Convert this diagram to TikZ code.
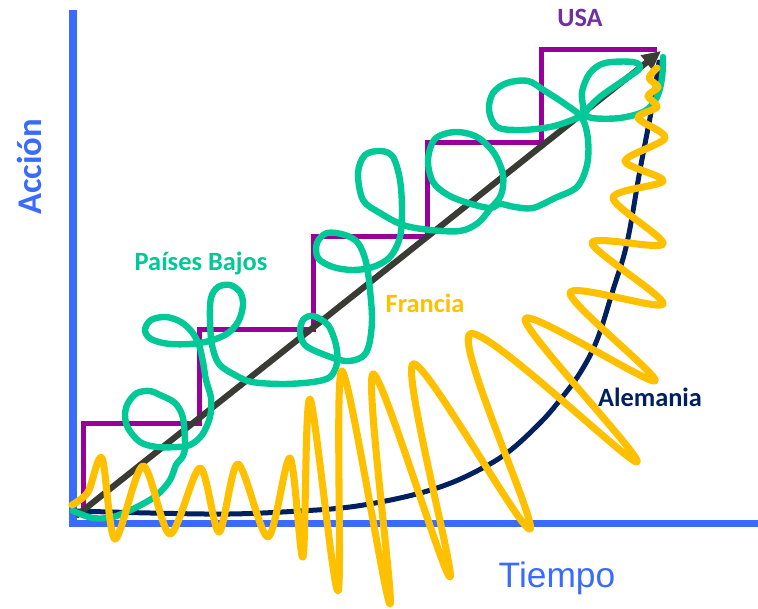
\documentclass[tikz,border=0pt]{standalone}
\usepackage{fontspec}
\setmainfont{Carlito}
\newfontfamily\arialfont{Liberation Sans}
\usetikzlibrary{arrows.meta}
\definecolor{axisblue}{RGB}{58,107,255}
\definecolor{stairpurple}{RGB}{153,0,153}
\definecolor{usapurple}{RGB}{112,48,160}
\definecolor{nlgreen}{RGB}{0,200,150}
\definecolor{frgold}{RGB}{255,192,0}
\definecolor{denavy}{RGB}{0,32,96}
\definecolor{arrowgray}{RGB}{59,59,53}
\begin{document}
\begin{tikzpicture}[x=0.75pt,y=-0.75pt,
  axisline/.style={draw=axisblue,line width=5.7pt,line join=miter},
  stairline/.style={draw=stairpurple,line width=3.75pt,line join=miter},
  trendline/.style={draw=arrowgray,line width=4.6pt,-{Triangle[length=14pt,width=13pt]}},
  navyline/.style={draw=denavy,line width=3.75pt,line cap=round},
  greenline/.style={draw=nlgreen,line width=4.8pt,line cap=round,line join=round},
  goldline/.style={draw=frgold,line width=5.3pt,line cap=round,line join=round},
  lbl/.style={font=\bfseries\fontsize{19.8}{22}\selectfont,anchor=base,inner sep=0pt}
]
\useasboundingbox (0,0) rectangle (758,609);
% axes
\coordinate (ytop) at (73,10);
\coordinate (origin) at (73,523.5);
\coordinate (xend) at (758,523.5);
\draw[axisline] (ytop) -- (origin) -- (xend);
% USA staircase
\draw[stairline] (83,515) -- (83,424) -- (199,424) -- (199,330) -- (313,330) -- (313,237)
  -- (427,237) -- (427,143) -- (541,143) -- (541,50) -- (657,50);
% Alemania curve
\draw[navyline] plot[smooth,tension=0.6] coordinates {(75,511) (150,513) (230,514) (300,511)
  (350,507) (400,498) (440,487) (473,473) (507,453) (540,423) (560,400) (580,373) (597,340)
  (613,290) (627,243) (640,170) (652,107) (659,62)};
% trend arrow
\coordinate (astart) at (76,516);
\coordinate (aend) at (661,51);
\draw[trendline] (astart) -- (aend);
% Paises Bajos loops
\draw[greenline] plot[smooth,tension=0.55] coordinates {(73,511) (93,518) (113,517) (137,507)
  (157,495) (170,480) (176,465) (183,456) (185,445) (183,418) (175,403) (160,395) (150,391)
  (137,393) (128,403) (125,415) (128,428) (140,442) (157,447) (177,447) (190,445) (202,435)
  (210,417) (211,398) (206,380) (203,362) (199,345) (192,332) (181,322) (166,317) (151,320)
  (145,330) (151,339) (170,344) (200,343) (225,335) (238,322) (243,305) (240,292) (230,285)
  (218,287) (211,298) (210,320) (212,345) (219,364) (235,375) (252,382) (283,384) (313,382)
  (330,377) (337,363) (336,345) (328,325) (313,316) (303,320) (300,333) (305,345) (320,353)
  (345,361) (362,357) (369,345) (372,320) (370,290) (366,262) (358,243) (345,235) (327,233)
  (317,243) (318,258) (333,267) (353,270) (373,267) (390,257) (400,237) (402,210) (400,180)
  (393,157) (381,151) (365,155) (358,173) (363,200) (380,213) (403,225) (430,230) (460,231)
  (478,223) (490,209) (501,195) (503,175) (494,153) (477,137) (455,132) (435,139) (428,160)
  (433,182) (448,195) (468,203) (490,208) (500,204) (515,207) (533,208) (555,198) (577,187)
  (587,165) (588,140) (582,118) (565,104) (545,91) (528,81) (507,83) (493,93) (489,110)
  (497,127) (520,130) (550,127) (572,120) (583,113) (582,92) (590,73) (605,63) (633,62)
  (640,68) (627,78) (600,97) (586,112) (592,118) (620,118) (645,111) (657,97) (662,78) (663,57)};
% Francia oscillation
\draw[goldline] plot[smooth,tension=0.5] coordinates {(72,505) (88,492) (102,458) (115,539)
  (143,466) (170,534) (200,468) (219,532) (238,464) (268,537) (290,458) (303,557) (310,399)
  (338,591) (342,371) (390,604) (373,374) (450,577) (413,364) (530,529) (470,334) (637,462)
  (525,319) (655,381) (570,293) (663,304) (592,243) (663,244) (613,198) (663,181) (625,161)
  (665,138) (638,118) (657,107) (648,96) (658,87) (649,78) (657,68)};
% labels
\node[lbl,text=nlgreen] (nl) at (201,271) {Países Bajos};
\node[lbl,text=frgold] (fr) at (425,313) {Francia};
\node[lbl,text=denavy] (de) at (650,407) {Alemania};
\node[lbl,text=usapurple] (us) at (580,27) {USA};
\node[font=\arialfont\fontsize{26.5}{30}\selectfont,text=axisblue,anchor=base,inner sep=0pt] (tiempo) at (557,588) {Tiempo};
\node[font=\bfseries\fontsize{26}{30}\selectfont,text=axisblue,anchor=base,rotate=90,inner sep=0pt] (accion) at (41,167) {Acción};
\end{tikzpicture}
\end{document}
